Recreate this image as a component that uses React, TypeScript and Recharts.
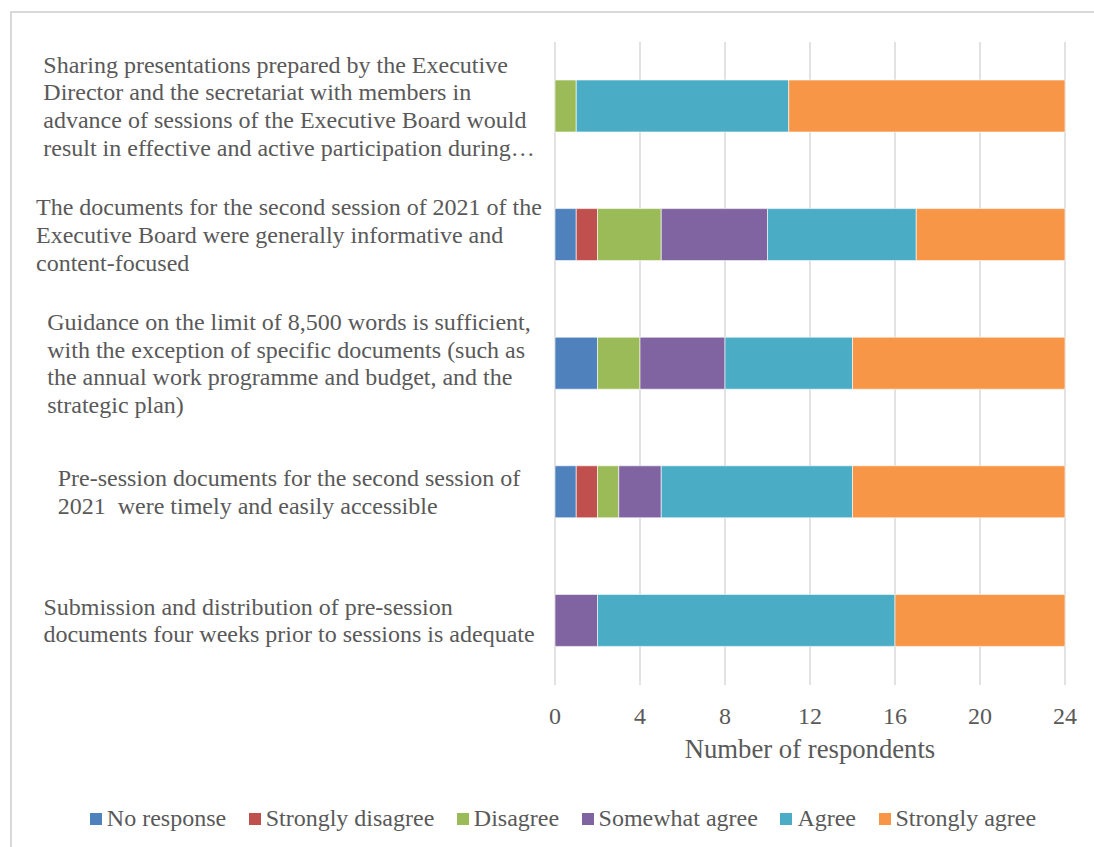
import React from 'react';
import { BarChart, Bar, XAxis, YAxis, CartesianGrid, Legend, Label } from 'recharts';

// ---------------------------------------------------------------------------
// Data
// ---------------------------------------------------------------------------

// category labels, wrapped the way they appear on the chart
const statements = [
  'Sharing presentations prepared by the Executive\nDirector and the secretariat with members in\nadvance of sessions of the Executive Board would\nresult in effective and active participation during…',
  'The documents for the second session of 2021 of the\nExecutive Board were generally informative and\ncontent-focused',
  'Guidance on the limit of 8,500 words is sufficient,\nwith the exception of specific documents (such as\nthe annual work programme and budget, and the\nstrategic plan)',
  'Pre-session documents for the second session of\n2021  were timely and easily accessible',
  'Submission and distribution of pre-session\ndocuments four weeks prior to sessions is adequate',
];

const noResponse = [0, 1, 2, 1, 0];
const stronglyDisagree = [0, 1, 0, 1, 0];
const disagree = [1, 3, 2, 1, 0];
const somewhatAgree = [0, 5, 4, 2, 2];
const agree = [10, 7, 6, 9, 14];
const stronglyAgree = [13, 7, 10, 10, 8];

const xTicks = [0, 4, 8, 12, 16, 20, 24];

const seriesNames = ['No response', 'Strongly disagree', 'Disagree', 'Somewhat agree', 'Agree', 'Strongly agree'];
const seriesValues = [noResponse, stronglyDisagree, disagree, somewhatAgree, agree, stronglyAgree];

// ---------------------------------------------------------------------------
// Styles
// ---------------------------------------------------------------------------

const colors = ['#4F81BD', '#C0504D', '#9BBB59', '#8064A2', '#4BACC6', '#F79646'];
const FONT = "'Liberation Serif', 'Times New Roman', serif";
const TEXT = '#595959';
const GRID = '#d9d9d9';
const LABEL_CENTER_X = 289;
const LINE_HEIGHT = 27.7;

const seriesKeys = ['s0', 's1', 's2', 's3', 's4', 's5'];

const data = statements.map((label, i) => {
  const row: Record<string, any> = { label };
  seriesKeys.forEach((k, j) => {
    row[k] = seriesValues[j][i];
  });
  return row;
});

let measureCtx: CanvasRenderingContext2D | null = null;
const measure = (s: string, size: number) => {
  if (!measureCtx) measureCtx = document.createElement('canvas').getContext('2d');
  if (!measureCtx) return s.length * size * 0.45;
  measureCtx.font = `${size}px ${FONT}`;
  return measureCtx.measureText(s).width;
};

const CategoryTick = (props: any) => {
  const { y, payload } = props;
  const lines: string[] = String(payload.value).split('\n');
  const w = Math.max(...lines.map((l) => measure(l, 24)));
  const left = LABEL_CENTER_X - w / 2;
  const startY = y - ((lines.length - 1) * LINE_HEIGHT) / 2;
  return (
    <text fontFamily={FONT} fontSize={24} fill={TEXT}>
      {lines.map((l, i) => (
        <tspan key={i} x={left} y={startY + i * LINE_HEIGHT} dy="0.33em" style={{ whiteSpace: 'pre' }}>
          {l}
        </tspan>
      ))}
    </text>
  );
};

const LegendContent = () => (
  <div
    style={{
      display: 'flex',
      justifyContent: 'center',
      alignItems: 'center',
      fontFamily: FONT,
      fontSize: 24,
      color: TEXT,
      whiteSpace: 'nowrap',
    }}
  >
    {seriesNames.map((name, i) => (
      <div key={name} style={{ display: 'flex', alignItems: 'center', marginRight: i < seriesNames.length - 1 ? 22.5 : 0 }}>
        <span style={{ width: 12, height: 12, background: colors[i], display: 'inline-block', marginRight: 5 }} />
        <span>{name}</span>
      </div>
    ))}
  </div>
);

export default function App() {
  return (
    <div style={{ position: 'absolute', left: 0, top: 0, width: 1094, height: 847, overflow: 'hidden', background: '#fff' }}>
      <div
        style={{
          position: 'absolute',
          left: 10,
          top: 11,
          width: 1110,
          height: 860,
          borderTop: `2px solid ${GRID}`,
          borderLeft: `2px solid ${GRID}`,
          boxSizing: 'border-box',
        }}
      />
      <div style={{ position: 'absolute', left: 0, top: 0 }}>
        <BarChart
          width={1094}
          height={847}
          data={data}
          layout="vertical"
          margin={{ top: 42, right: 29, left: 10, bottom: 0 }}
          barSize={52}
        >
          <CartesianGrid horizontal={false} stroke={GRID} strokeWidth={1.5} />
          <XAxis
            type="number"
            domain={[0, 24]}
            ticks={xTicks}
            interval={0}
            axisLine={false}
            tickLine={false}
            tickSize={0}
            tickMargin={22}
            height={135}
            tick={{ fontFamily: FONT, fontSize: 24, fill: TEXT }}
          >
            <Label
              value="Number of respondents"
              position="insideTop"
              offset={54}
              style={{ fontFamily: FONT, fontSize: 26.7, fill: TEXT }}
            />
          </XAxis>
          <YAxis
            type="category"
            dataKey="label"
            width={545}
            axisLine={false}
            tickLine={false}
            interval={0}
            tick={<CategoryTick />}
          />
          {seriesKeys.map((k, i) => (
            <Bar
              key={k}
              dataKey={k}
              name={seriesNames[i]}
              stackId="a"
              fill={colors[i]}
              stroke="#ffffff"
              strokeWidth={0.6}
              isAnimationActive={false}
            />
          ))}
          <Legend
            content={<LegendContent />}
            wrapperStyle={{ position: 'absolute', left: 30, width: 1066, top: 805, bottom: 'auto' }}
          />
        </BarChart>
      </div>
    </div>
  );
}
